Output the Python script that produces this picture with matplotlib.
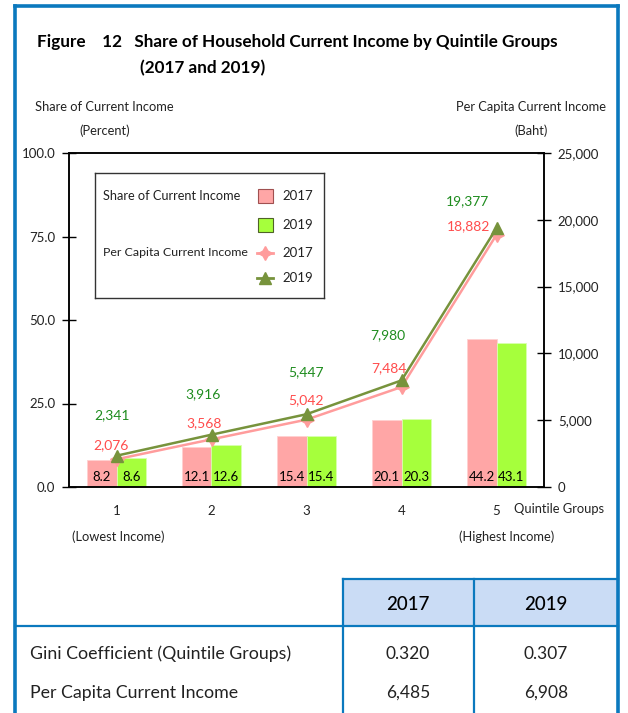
import matplotlib
matplotlib.use("Agg")
import matplotlib.pyplot as plt
from matplotlib.lines import Line2D
from matplotlib.patches import Rectangle
from matplotlib.ticker import FuncFormatter, MultipleLocator

# ---- data -------------------------------------------------------------
quintiles = [1, 2, 3, 4, 5]
share_2017 = [8.2, 12.1, 15.4, 20.1, 44.2]
share_2019 = [8.6, 12.6, 15.4, 20.3, 43.1]
income_2017 = [2076, 3568, 5042, 7484, 18882]
income_2019 = [2341, 3916, 5447, 7980, 19377]

table_years = ["2017", "2019"]
table_rows = ["Gini Coefficient (Quintile Groups)", "Per Capita Current Income"]
gini = [0.320, 0.307]
per_capita = [6485, 6908]

# ---- style ------------------------------------------------------------
FONT = "Lato"
plt.rcParams["font.family"] = [FONT, "DejaVu Sans"]
BAR17, BAR19 = "#FFA6A6", "#A6FF3C"
LINE17, LINE19 = "#FF9C9C", "#77933C"
LAB17, LAB19 = "#FF4C4C", "#1E8C1E"
BLUE = "#0B79BE"
TXT = "#222222"

W, H = 628, 713
fig = plt.figure(figsize=(W / 100, H / 100), dpi=100)
fig.patch.set_facecolor("white")


def fx(x):
    return x / W


def fy(y):
    return 1 - y / H


# ---- outer frame ------------------------------------------------------
for xs, ys in [((15, 15), (6, 713)), ((618, 618), (6, 713)), ((15, 618), (6, 6))]:
    fig.add_artist(Line2D([fx(v) for v in xs], [fy(v) for v in ys],
                          color=BLUE, lw=2.6, solid_capstyle="projecting"))

# ---- title ------------------------------------------------------------
fig.text(fx(37), fy(42), "Figure    12   Share of Household Current Income by Quintile Groups",
         fontsize=12.3, fontweight="bold", va="center", ha="left", color="black")
fig.text(fx(140), fy(68), "(2017 and 2019)", fontsize=12.3, fontweight="bold",
         va="center", ha="left", color="black")

# ---- axes -------------------------------------------------------------
L, R, T, B = 69, 544, 153, 487
ax = fig.add_axes([fx(L), fy(B), (R - L) / W, (B - T) / H])
ax2 = ax.twinx()

bw = 0.31
x = list(quintiles)
ax.bar([v - bw / 2 for v in x], share_2017, width=bw, color=BAR17,
       edgecolor="#FFD0D0", linewidth=0.6, zorder=2)
ax.bar([v + bw / 2 for v in x], share_2019, width=bw, color=BAR19,
       edgecolor="#D8FFB0", linewidth=0.6, zorder=2)
for v, a, b in zip(x, share_2017, share_2019):
    ax.annotate(f"{a:.1f}", (v - bw / 2, 0), xytext=(0, 10), textcoords="offset pixels",
                ha="center", va="center", fontsize=9.5, color="black")
    ax.annotate(f"{b:.1f}", (v + bw / 2, 0), xytext=(0, 10), textcoords="offset pixels",
                ha="center", va="center", fontsize=9.5, color="black")

ax.set_xlim(0.5, 5.5)
ax.set_ylim(0, 100)
ax.yaxis.set_major_locator(MultipleLocator(25))
ax.yaxis.set_major_formatter(FuncFormatter(lambda v, p: f"{v:.1f}"))
ax.set_xticks(x)
ax.set_xticklabels([str(q) for q in quintiles])
ax.tick_params(axis="x", length=0, pad=13, labelsize=9.5, labelcolor=TXT)
ax.tick_params(axis="y", direction="inout", length=10, width=1, pad=5,
               labelsize=9.5, labelcolor=TXT)
for s in ax.spines.values():
    s.set_linewidth(1.1)
    s.set_color("black")

ax2.plot(x, income_2017, color=LINE17, lw=1.8, marker=(4, 1, 0), markersize=10,
         markerfacecolor=LINE17, markeredgecolor=LINE17, zorder=3)
ax2.plot(x, income_2019, color=LINE19, lw=1.8, marker="^", markersize=8,
         markerfacecolor=LINE19, markeredgecolor=LINE19, zorder=4)
ax2.set_ylim(0, 25000)
ax2.yaxis.set_major_locator(MultipleLocator(5000))
ax2.yaxis.set_major_formatter(FuncFormatter(lambda v, p: f"{int(v):,}"))
ax2.tick_params(axis="y", direction="inout", length=10, width=1, pad=5,
                labelsize=9.5, labelcolor=TXT)
for s in ax2.spines.values():
    s.set_linewidth(1.1)
    s.set_color("black")

# label placement (pixel offsets from each point)
off17 = [(-6, 14), (-7, 16), (-1, 19), (-13, 19), (-28, 9)]
off19 = [(-4, 41), (-8, 41), (-1, 42), (-14, 45), (-29, 27)]
for v, a, b, o1, o2 in zip(x, income_2017, income_2019, off17, off19):
    ax2.annotate(f"{a:,}", (v, a), xytext=o1, textcoords="offset pixels",
                 ha="center", va="center", fontsize=10, color=LAB17)
    ax2.annotate(f"{b:,}", (v, b), xytext=o2, textcoords="offset pixels",
                 ha="center", va="center", fontsize=10, color=LAB19)

# axis titles and category notes
fig.text(fx(35), fy(107), "Share of Current Income", fontsize=9.3, color=TXT, va="center")
fig.text(fx(105), fy(131), "(Percent)", fontsize=9.3, color=TXT, va="center", ha="center")
fig.text(fx(606), fy(107), "Per Capita Current Income", fontsize=9.3, color=TXT,
         va="center", ha="right")
fig.text(fx(531), fy(131), "(Baht)", fontsize=9.3, color=TXT, va="center", ha="center")
fig.text(fx(514), fy(509), "Quintile Groups", fontsize=9.3, color=TXT, va="center", ha="left")
fig.text(fx(118), fy(537), "(Lowest Income)", fontsize=9.3, color=TXT, va="center", ha="center")
fig.text(fx(507), fy(537), "(Highest Income)", fontsize=9.3, color=TXT, va="center", ha="center")

# ---- legend -----------------------------------------------------------
lg = ax2.inset_axes([(95 - L) / (R - L), (B - 298) / (B - T),
                     (324 - 95) / (R - L), (298 - 173) / (B - T)])
lg.set_xlim(95, 324)
lg.set_ylim(298, 173)
lg.set_xticks([])
lg.set_yticks([])
lg.set_facecolor("white")
for s in lg.spines.values():
    s.set_linewidth(1)
    s.set_color("#333333")
lg.text(103, 196, "Share of Current Income", fontsize=9.2, color=TXT, va="center")
lg.text(103, 252, "Per Capita Current Income", fontsize=8.9, color=TXT, va="center")
lg.add_patch(Rectangle((258, 189), 15, 14, facecolor=BAR17, edgecolor="#A05050", lw=0.8))
lg.add_patch(Rectangle((258, 218), 15, 14, facecolor=BAR19, edgecolor="#4F6228", lw=0.8))
lg.plot([257, 273], [253, 253], color=LINE17, lw=2)
lg.plot([265], [253], marker=(4, 1, 0), markersize=10, color=LINE17)
lg.plot([257, 273], [278, 278], color=LINE19, lw=2)
lg.plot([265], [278], marker="^", markersize=8, color=LINE19)
for yy, t in zip([196, 225, 253, 278], table_years * 2):
    lg.text(282, yy, t, fontsize=9.5, color=TXT, va="center")

# ---- summary table ----------------------------------------------------
fig.add_artist(Rectangle((fx(343), fy(626)), (618 - 343) / W, (626 - 579) / H,
                         transform=fig.transFigure, facecolor="#CADCF5",
                         edgecolor="none", zorder=0))
tl = [((343, 618), (579, 579)), ((15, 618), (626, 626)),
      ((343, 343), (579, 713)), ((474, 474), (579, 713))]
for xs, ys in tl:
    fig.add_artist(Line2D([fx(v) for v in xs], [fy(v) for v in ys], color=BLUE, lw=1.6))

col_x = [408, 546]
for cx, yr in zip(col_x, table_years):
    fig.text(fx(cx), fy(604), yr, fontsize=13.5, fontweight="medium", color="black",
             ha="center", va="center")
row_y = [654, 693]
row_vals = [[f"{g:.3f}" for g in gini], [f"{p:,}" for p in per_capita]]
for ry, lab, vals in zip(row_y, table_rows, row_vals):
    fig.text(fx(30), fy(ry), lab, fontsize=12.8, color=TXT, ha="left", va="center")
    for cx, v in zip(col_x, vals):
        fig.text(fx(cx), fy(ry), v, fontsize=12.5, color=TXT, ha="center", va="center")

fig.savefig("out.png", dpi=100)
